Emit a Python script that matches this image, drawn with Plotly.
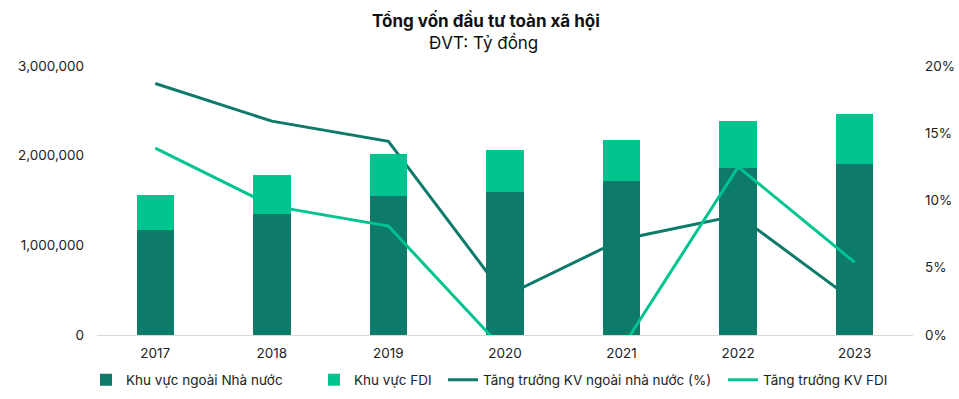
import plotly.graph_objects as go

years = ["2017", "2018", "2019", "2020", "2021", "2022", "2023"]
non_state = [1171000, 1349000, 1550000, 1594000, 1717000, 1865000, 1906000]
fdi = [390000, 435000, 468000, 468000, 457000, 521000, 558000]
growth_non_state = [18.7, 15.9, 14.4, 2.9, 7.1, 8.9, 2.5]
growth_fdi = [13.9, 9.6, 8.1, -1.2, -1.0, 12.5, 5.4]

DARK = "#0E7A69"
LIGHT = "#00C490"
FONT = "Inter, Roboto, Arial, sans-serif"
TXT = "#222222"
FS = 13.5

fig = go.Figure()

fig.add_trace(go.Scatter(
    x=years, y=growth_non_state, name="Tăng trưởng KV ngoài nhà nước (%)",
    mode="lines", line=dict(color=DARK, width=3), yaxis="y", legend="legend3",
))
fig.add_trace(go.Bar(
    x=years, y=non_state, name="Khu vực ngoài Nhà nước",
    marker=dict(color=DARK, line=dict(width=0)), yaxis="y2", legend="legend",
))
fig.add_trace(go.Bar(
    x=years, y=fdi, name="Khu vực FDI",
    marker=dict(color=LIGHT, line=dict(width=0)), yaxis="y2", legend="legend2",
))
fig.add_trace(go.Scatter(
    x=years, y=growth_fdi, name="Tăng trưởng KV FDI",
    mode="lines", line=dict(color=LIGHT, width=3), yaxis="y3", legend="legend4",
))

def leg(xpx):
    return dict(orientation="h", xref="container", yref="container",
                x=xpx / 959, xanchor="left", y=1 - 380 / 399, yanchor="middle",
                font=dict(size=FS, color=TXT), bgcolor="rgba(0,0,0,0)")

fig.update_layout(
    width=959, height=399,
    margin=dict(l=97, r=46, t=66, b=64, autoexpand=False),
    paper_bgcolor="white", plot_bgcolor="white",
    font=dict(family=FONT, size=FS, color=TXT),
    barmode="stack", bargap=0.68,
    showlegend=True,
    legend=leg(86), legend2=leg(314), legend3=leg(443), legend4=leg(723),
    xaxis=dict(type="category", showline=True, linecolor="#d9d9d9", linewidth=1,
               showgrid=False, ticks="", ticklabelstandoff=6, automargin=False),
    yaxis=dict(side="right", range=[0, 20], dtick=5, ticksuffix="%",
               showgrid=False, zeroline=False, showline=False, ticklabelstandoff=11,
               automargin=False),
    yaxis2=dict(overlaying="y", side="left", range=[0, 3000000], dtick=1000000,
                tickformat=",d", showgrid=False, zeroline=False, showline=False,
                ticklabelstandoff=12, automargin=False),
    yaxis3=dict(overlaying="y", side="right", range=[0, 20], visible=False),
    annotations=[
        dict(text="<b>Tổng vốn đầu tư toàn xã hội</b>", xref="paper", yref="paper",
             x=0.4767, y=1.171, xanchor="center", yanchor="middle", showarrow=False,
             font=dict(size=17, color="#111111")),
        dict(text="ĐVT: Tỷ đồng", xref="paper", yref="paper",
             x=0.4737, y=1.087, xanchor="center", yanchor="middle", showarrow=False,
             font=dict(size=17, color="#111111")),
    ],
)

fig.write_html("out.html", config={"displayModeBar": False},
               post_script="document.body.style.margin='0';")
